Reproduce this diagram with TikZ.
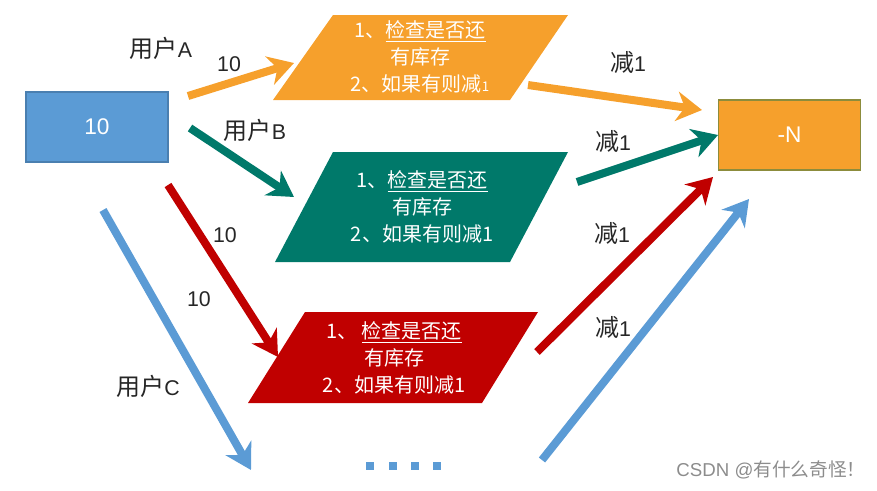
\documentclass[tikz,border=0pt]{standalone}
\usepackage{fontspec}
\setmainfont{Liberation Sans}
\newfontfamily\cjk{Noto Sans CJK SC}
\usetikzlibrary{arrows.meta}
\definecolor{cblue}{HTML}{5B9BD5}
\definecolor{cblueline}{HTML}{4A7FB0}
\definecolor{corange}{HTML}{F6A02C}
\definecolor{coline}{HTML}{8C8C3C}
\definecolor{cteal}{HTML}{00796A}
\definecolor{cred}{HTML}{C00000}
\tikzset{
  arr/.style={line width=6pt, -{Stealth[length=19pt,width=22pt,inset=6pt]}},
  lbl/.style={font=\fontsize{16}{19}\selectfont, text=black!85},
  ptext/.style={font=\cjk\fontsize{15}{20}\selectfont, text=white, align=center},
  boxtext/.style={inner sep=0pt, text=white, font=\fontsize{17}{20}\selectfont, line width=0.8pt},
}
\newcommand{\cj}[1]{{\cjk\fontsize{18}{20}\selectfont #1}}
\begin{document}
\begin{tikzpicture}[x=0.75pt,y=-0.75pt]
\useasboundingbox (0,0) rectangle (877,490);
% boxes
\node[boxtext, draw=cblueline, fill=cblue, minimum width=106.5pt, minimum height=52.5pt] (src) at (97,127) {10};
\node[boxtext, draw=coline, fill=corange, minimum width=107pt, minimum height=52.5pt] (dst) at (789.5,135) {-N};
% parallelograms
\fill[corange] (333,15) -- (568,15) -- (510,100) -- (273,100) -- cycle;
\node[ptext] (pa) at (420,57) {1、\underline{检查是否还}\\有库存\\2、如果有则减{\fontsize{10}{10}\selectfont 1}};
\fill[cteal] (333,152) -- (568,152) -- (510,262) -- (275,262) -- cycle;
\node[ptext] (pb) at (422,207) {1、\underline{检查是否还}\\有库存\\2、如果有则减1};
\fill[cred] (305,312) -- (538,312) -- (482,403) -- (248,403) -- cycle;
\node[ptext] (pc) at (394,358) {1、 \underline{检查是否还}\\有库存\\2、如果有则减1};
% coordinates
\coordinate (a1s) at (188,96);
\coordinate (a1e) at (294,63);
\coordinate (a2s) at (528,85);
\coordinate (a2e) at (702,110);
\coordinate (b1s) at (190,128);
\coordinate (b1e) at (294,197);
\coordinate (b2s) at (577,182);
\coordinate (b2e) at (718,135);
\coordinate (c1s) at (168,185);
\coordinate (c1e) at (278,357);
\coordinate (c2s) at (537,352);
\coordinate (c2e) at (713,177);
\coordinate (d1s) at (103,210);
\coordinate (d1e) at (251,470);
\coordinate (d2s) at (542,460);
\coordinate (d2e) at (749,199);
% arrows
\draw[arr, corange] (a1s) -- (a1e);
\draw[arr, corange] (a2s) -- (a2e);
\draw[arr, cteal] (b1s) -- (b1e);
\draw[arr, cteal] (b2s) -- (b2e);
\draw[arr, cred] (c1s) -- (c1e);
\draw[arr, cred] (c2s) -- (c2e);
\draw[arr, cblue] (d1s) -- (d1e);
\draw[arr, cblue] (d2s) -- (d2e);
% labels
\node[lbl] (la) at (161,48) {\cj{用户}A};
\node[lbl] (lb) at (255,130) {\cj{用户}B};
\node[lbl] (lc) at (148,386) {\cj{用户}C};
\node[lbl] (n1) at (229,64) {10};
\node[lbl] (n2) at (225,235) {10};
\node[lbl] (n3) at (199,299) {10};
\node[lbl] (m1) at (628,62) {\cj{减}1};
\node[lbl] (m2) at (613,141) {\cj{减}1};
\node[lbl] (m3) at (612,233) {\cj{减}1};
\node[lbl] (m4) at (613,327) {\cj{减}1};
% dots
\foreach \i/\x in {1/370,2/393,3/415,4/437}{
  \node[fill=cblue, minimum size=6pt, inner sep=0pt] (dot\i) at (\x,466) {};
}
% watermark
\node[font=\fontsize{14}{16}\selectfont, text=black!45] (wm) at (771,470) {CSDN @\cj{\fontsize{14}{16}\selectfont 有什么奇怪！}};
\end{tikzpicture}
\end{document}
